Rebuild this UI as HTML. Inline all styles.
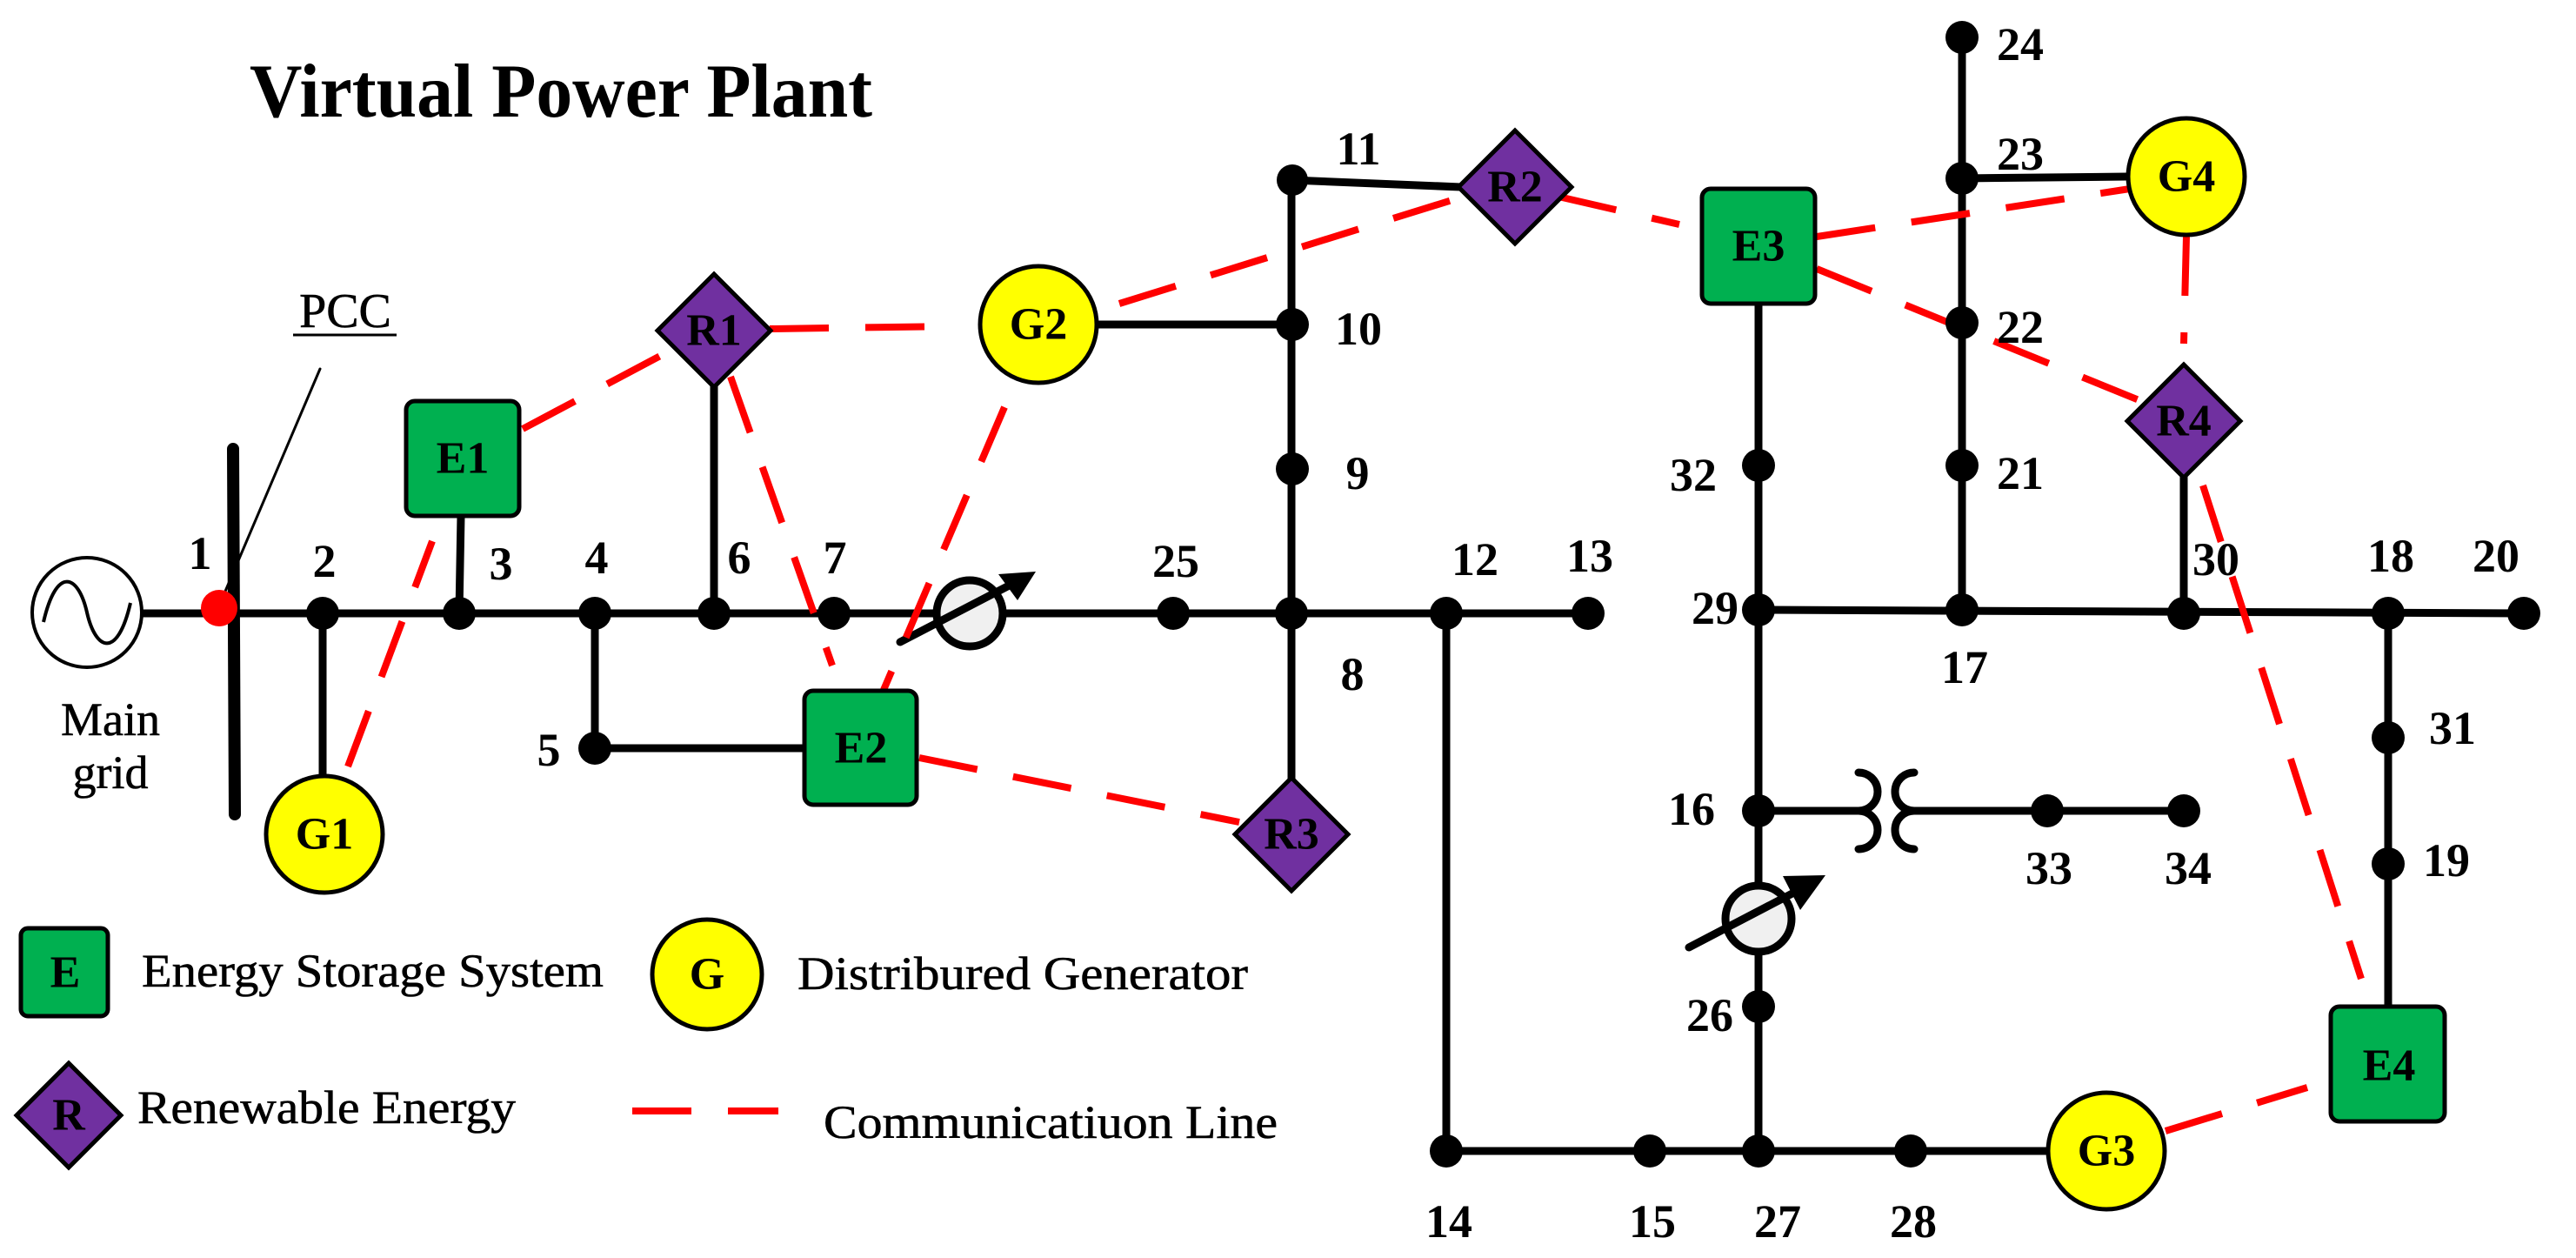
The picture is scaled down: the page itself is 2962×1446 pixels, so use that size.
<!DOCTYPE html>
<html><head><meta charset="utf-8"><style>
html,body{margin:0;padding:0;background:#fff;}
svg{display:block;}
text{font-family:"Liberation Serif",serif;}
.n{font-size:54px;font-weight:bold;text-anchor:middle;dominant-baseline:central;fill:#000;}
.bl{font-size:52px;font-weight:bold;text-anchor:middle;dominant-baseline:central;fill:#000;}
.lg{font-size:54px;fill:#000;stroke:#000;stroke-width:0.6;}
</style></head><body>
<svg width="2962" height="1446" viewBox="0 0 2962 1446" xmlns="http://www.w3.org/2000/svg">
<text x="287" y="134" font-size="88" font-weight="bold" textLength="716" lengthAdjust="spacingAndGlyphs">Virtual Power Plant</text>

<g stroke="#000" stroke-width="9" fill="none" stroke-linecap="round">
<line x1="165" y1="705" x2="1485" y2="705"/>
<line x1="1485" y1="705" x2="1826" y2="705"/>
<line x1="268" y1="516" x2="270" y2="936" stroke-width="14"/>
<line x1="371" y1="705" x2="371" y2="895"/>
<line x1="530" y1="593" x2="528" y2="705"/>
<line x1="684" y1="705" x2="684" y2="860"/>
<line x1="684" y1="860" x2="925" y2="860"/>
<line x1="821" y1="420" x2="821" y2="705"/>
<line x1="1485" y1="207" x2="1485" y2="925"/>
<line x1="1485" y1="207" x2="1680" y2="215"/>
<line x1="1263" y1="373" x2="1485" y2="373"/>
<line x1="1663" y1="705" x2="1663" y2="1323"/>
<line x1="1663" y1="1323" x2="2355" y2="1323"/>
<line x1="2022" y1="349" x2="2022" y2="1323"/>
<line x1="2022" y1="701" x2="2902" y2="705"/>
<line x1="2256" y1="43" x2="2256" y2="701"/>
<line x1="2256" y1="205" x2="2445" y2="203"/>
<line x1="2511" y1="520" x2="2511" y2="705"/>
<line x1="2746" y1="705" x2="2746" y2="1157"/>
<line x1="2022" y1="932" x2="2138" y2="932"/>
<line x1="2200" y1="932" x2="2511" y2="932"/>
<path d="M2137,888 A22,22 0 0 1 2137,932 A22,22 0 0 1 2137,976" stroke-width="9"/>
<path d="M2201,888 A22,22 0 0 0 2201,932 A22,22 0 0 0 2201,976" stroke-width="9"/>
<line x1="368" y1="424" x2="258" y2="682" stroke-width="3"/>
</g>

<circle cx="100" cy="704" r="63" fill="#fff" stroke="#000" stroke-width="4"/>
<path d="M50,715 C65,650 90,660 100,704 C110,748 135,758 150,693" fill="none" stroke="#000" stroke-width="4"/>
<text x="127" y="827" font-size="54" text-anchor="middle" dominant-baseline="central" stroke="#000" stroke-width="0.6">Main</text>
<text x="127" y="888" font-size="54" text-anchor="middle" dominant-baseline="central" stroke="#000" stroke-width="0.6">grid</text>
<text x="397" y="358" font-size="56" text-anchor="middle" dominant-baseline="central" stroke="#000" stroke-width="0.6">PCC</text>
<line x1="337" y1="385" x2="456" y2="385" stroke="#000" stroke-width="3"/>

<g stroke="#000" stroke-width="9">
<circle cx="1115" cy="705" r="38" fill="#f0f0f0"/>
<line x1="1035" y1="738" x2="1170" y2="668" stroke-linecap="round"/>
<circle cx="2022" cy="1056" r="38" fill="#f0f0f0"/>
<line x1="1942" y1="1089" x2="2078" y2="1018" stroke-linecap="round"/>
</g>
<polygon points="1191,657 1148,660 1170,690" fill="#000"/>
<polygon points="2099,1006 2050,1007 2070,1046" fill="#000"/>

<g stroke="#ff0000" stroke-width="8" fill="none" stroke-dasharray="68,42">
<line x1="601" y1="493" x2="765" y2="406"/>
<line x1="885" y1="378" x2="1095" y2="375"/>
<line x1="840" y1="433" x2="957" y2="765"/>
<line x1="400" y1="881" x2="497" y2="622"/>
<line x1="1155" y1="468" x2="1016" y2="793"/>
<line x1="1287" y1="349" x2="1692" y2="223"/>
<line x1="1792" y1="226" x2="1931" y2="258"/>
<line x1="2089" y1="272" x2="2449" y2="217"/>
<line x1="2089" y1="309" x2="2462" y2="461"/>
<line x1="2514" y1="272" x2="2511" y2="395"/>
<line x1="2533" y1="558" x2="2715" y2="1125"/>
<line x1="2490" y1="1300" x2="2653" y2="1250"/>
<line x1="1057" y1="871" x2="1425" y2="945"/>
<line x1="727" y1="1277" x2="895" y2="1277"/>
</g>

<g fill="#000">
<circle cx="371" cy="705" r="19"/><circle cx="528" cy="705" r="19"/><circle cx="684" cy="705" r="19"/>
<circle cx="821" cy="705" r="19"/><circle cx="959" cy="705" r="19"/><circle cx="1349" cy="705" r="19"/>
<circle cx="1485" cy="705" r="19"/><circle cx="684" cy="860" r="19"/>
<circle cx="1486" cy="207" r="18"/><circle cx="1486" cy="373" r="19"/><circle cx="1486" cy="539" r="19"/>
<circle cx="1663" cy="705" r="19"/><circle cx="1826" cy="705" r="19"/>
<circle cx="1663" cy="1323" r="19"/><circle cx="1897" cy="1323" r="19"/><circle cx="2022" cy="1323" r="19"/><circle cx="2197" cy="1323" r="19"/>
<circle cx="2022" cy="701" r="19"/><circle cx="2022" cy="535" r="19"/><circle cx="2022" cy="932" r="19"/><circle cx="2022" cy="1157" r="19"/>
<circle cx="2354" cy="932" r="19"/><circle cx="2511" cy="932" r="19"/>
<circle cx="2256" cy="43" r="19"/><circle cx="2256" cy="205" r="19"/><circle cx="2256" cy="371" r="19"/><circle cx="2256" cy="535" r="19"/><circle cx="2256" cy="701" r="19"/>
<circle cx="2511" cy="705" r="19"/><circle cx="2746" cy="705" r="19"/><circle cx="2902" cy="705" r="19"/>
<circle cx="2746" cy="848" r="19"/><circle cx="2746" cy="993" r="19"/>
</g>
<circle cx="252" cy="699" r="21" fill="#ff0000"/>

<g stroke="#000" stroke-width="5">
<rect x="467" y="461" width="130" height="132" rx="10" fill="#00b050"/>
<rect x="925" y="794" width="129" height="131" rx="10" fill="#00b050"/>
<rect x="1957" y="217" width="130" height="132" rx="10" fill="#00b050"/>
<rect x="2680" y="1157" width="131" height="132" rx="10" fill="#00b050"/>
<circle cx="373" cy="959" r="67" fill="#ffff00"/>
<circle cx="1194" cy="373" r="67" fill="#ffff00"/>
<circle cx="2422" cy="1323" r="67" fill="#ffff00"/>
<circle cx="2514" cy="203" r="67" fill="#ffff00"/>
<polygon points="821,315 886,380 821,445 756,380" fill="#7030a0"/>
<polygon points="1742,150 1807,215 1742,280 1677,215" fill="#7030a0"/>
<polygon points="1485,894 1550,959 1485,1024 1420,959" fill="#7030a0"/>
<polygon points="2511,419 2576,484 2511,549 2446,484" fill="#7030a0"/>
<rect x="24" y="1067" width="100" height="101" rx="8" fill="#00b050"/>
<circle cx="813" cy="1120" r="63" fill="#ffff00"/>
<polygon points="79,1222 139,1282 79,1342 19,1282" fill="#7030a0"/>
</g>

<text class="bl" x="532" y="527">E1</text>
<text class="bl" x="990" y="860">E2</text>
<text class="bl" x="2022" y="283">E3</text>
<text class="bl" x="2747" y="1225">E4</text>
<text class="bl" x="373" y="959">G1</text>
<text class="bl" x="1194" y="373">G2</text>
<text class="bl" x="2422" y="1323">G3</text>
<text class="bl" x="2514" y="203">G4</text>
<text class="bl" x="821" y="380">R1</text>
<text class="bl" x="1742" y="215">R2</text>
<text class="bl" x="1485" y="959">R3</text>
<text class="bl" x="2511" y="484">R4</text>
<text class="bl" x="75" y="1118">E</text>
<text class="bl" x="813" y="1120">G</text>
<text class="bl" x="79" y="1282">R</text>

<text class="lg" x="163" y="1134" textLength="531" lengthAdjust="spacingAndGlyphs">Energy Storage System</text>
<text class="lg" x="917" y="1137" textLength="518" lengthAdjust="spacingAndGlyphs">Distribured Generator</text>
<text class="lg" x="158" y="1291" textLength="435" lengthAdjust="spacingAndGlyphs">Renewable Energy</text>
<text class="lg" x="947" y="1308" textLength="522" lengthAdjust="spacingAndGlyphs">Communicatiuon Line</text>

<text class="n" x="230" y="636">1</text>
<text class="n" x="373" y="645">2</text>
<text class="n" x="576" y="648">3</text>
<text class="n" x="686" y="641">4</text>
<text class="n" x="631" y="862">5</text>
<text class="n" x="850" y="641">6</text>
<text class="n" x="960" y="641">7</text>
<text class="n" x="1352" y="645">25</text>
<text class="n" x="1555" y="775">8</text>
<text class="n" x="1561" y="544">9</text>
<text class="n" x="1562" y="378">10</text>
<text class="n" x="1562" y="171">11</text>
<text class="n" x="1696" y="643">12</text>
<text class="n" x="1828" y="639">13</text>
<text class="n" x="1666" y="1404">14</text>
<text class="n" x="1900" y="1404">15</text>
<text class="n" x="1945" y="930">16</text>
<text class="n" x="2259" y="767">17</text>
<text class="n" x="2749" y="639">18</text>
<text class="n" x="2813" y="989">19</text>
<text class="n" x="2870" y="639">20</text>
<text class="n" x="2323" y="544">21</text>
<text class="n" x="2323" y="376">22</text>
<text class="n" x="2323" y="177">23</text>
<text class="n" x="2323" y="51">24</text>
<text class="n" x="1966" y="1167">26</text>
<text class="n" x="2044" y="1404">27</text>
<text class="n" x="2200" y="1404">28</text>
<text class="n" x="1972" y="699">29</text>
<text class="n" x="2548" y="643">30</text>
<text class="n" x="2820" y="837">31</text>
<text class="n" x="1947" y="546">32</text>
<text class="n" x="2356" y="998">33</text>
<text class="n" x="2516" y="998">34</text>
</svg>
</body></html>
